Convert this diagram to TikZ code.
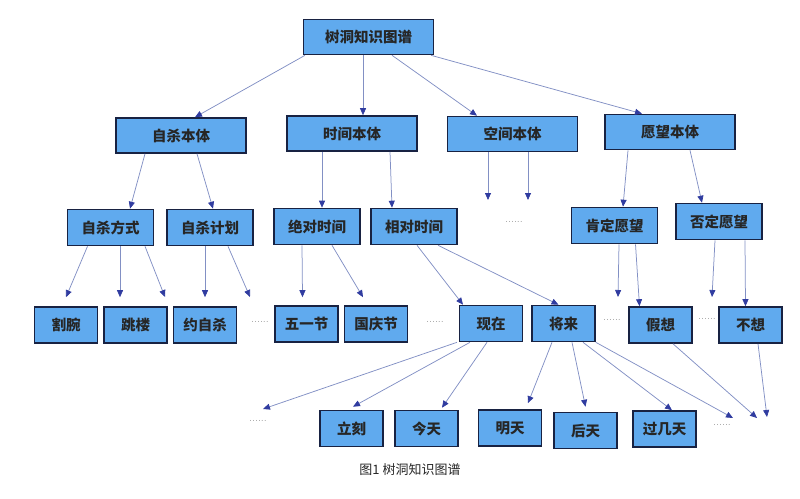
\documentclass[tikz,border=0pt]{standalone}
\usepackage{fontspec}
\newfontfamily\cjk{Noto Sans CJK SC}
\usetikzlibrary{arrows.meta}
\definecolor{fond}{RGB}{96,170,238}
\definecolor{bord}{RGB}{24,34,66}
\definecolor{trait}{RGB}{130,144,196}
\definecolor{pointe}{RGB}{48,60,160}

\begin{document}
\begin{tikzpicture}[x=1pt,y=-1pt,
    boite/.style={draw=bord,line width=1.6pt,fill=fond,inner sep=0pt,
      font=\fontsize{14.5}{16}\selectfont\cjk\bfseries,text=black!85},
    grand/.style={boite,minimum width=130pt,minimum height=35pt},
    moyen/.style={boite,minimum width=86pt,minimum height=36pt},
    petit/.style={boite,minimum width=63pt,minimum height=36pt},
    fleche/.style={draw=trait,line width=0.75pt,-{Triangle[length=7pt,width=6pt,color=pointe]}},
    etc/.style={font=\fontsize{11}{11}\selectfont,text=gray!80}]
    \useasboundingbox (0,0) rectangle (800,498);
    % racine et niveau 1
    \node[grand] (R) at (368.5,37) {树洞知识图谱};
    \node[grand] (A) at (181,135.5) {自杀本体};
    \node[grand] (B) at (352,133.5) {时间本体};
    \node[grand] (C) at (512.5,134) {空间本体};
    \node[grand] (D) at (670,132) {愿望本体};
    % niveau 2
    \node[moyen] (A1) at (110.5,227.5) {自杀方式};
    \node[moyen] (A2) at (210,227.5) {自杀计划};
    \node[moyen] (B1) at (317,226.5) {绝对时间};
    \node[moyen] (B2) at (414,226.5) {相对时间};
    \node[moyen] (D1) at (614.5,225.5) {肯定愿望};
    \node[moyen] (D2) at (719,221.5) {否定愿望};
    % niveau 3
    \node[petit] (A11) at (66,325) {割腕};
    \node[petit] (A12) at (135.5,325) {跳楼};
    \node[petit] (A21) at (205,325) {约自杀};
    \node[petit] (B11) at (306.5,324) {五一节};
    \node[petit] (B12) at (376,324) {国庆节};
    \node[petit] (B21) at (491,323.5) {现在};
    \node[petit] (B22) at (563.5,323.5) {将来};
    \node[petit] (D11) at (660.5,325) {假想};
    \node[petit] (D21) at (750.5,325) {不想};
    % niveau 4
    \node[petit] (B211) at (351.5,428.5) {立刻};
    \node[petit] (B212) at (426.5,428.5) {今天};
    \node[petit] (B221) at (510,428) {明天};
    \node[petit] (B222) at (585.5,430.5) {后天};
    \node[petit] (B223) at (664.5,429) {过几天};
    % points de suspension
    \node[etc] (p1) at (514,222) {......};
    \node[etc] (p2) at (260,322) {......};
    \node[etc] (p3) at (435,322) {......};
    \node[etc] (p4) at (612,320) {......};
    \node[etc] (p5) at (707,319) {......};
    \node[etc] (p6) at (258,421) {......};
    \node[etc] (p7) at (722,425) {......};
    % extrémités libres
    \coordinate (c1) at (488,200);
    \coordinate (c2) at (528,200);
    \coordinate (a3) at (165,297);
    \coordinate (a4) at (250,297);
    \coordinate (d1) at (618,297);
    \coordinate (d2) at (712,297);
    \coordinate (e1) at (263,409);
    \coordinate (e2) at (733,418);
    \coordinate (e3) at (757,418);
    \coordinate (e4) at (767,417);
    % flèches
    \draw[fleche] ([xshift=-63.5pt]R.south) -- ([xshift=14pt]A.north);
    \draw[fleche] ([xshift=-5.5pt]R.south) -- ([xshift=11pt]B.north);
    \draw[fleche] ([xshift=23.5pt]R.south) -- ([xshift=-35.5pt]C.north);
    \draw[fleche] ([xshift=62.5pt]R.south) -- ([xshift=-28pt]D.north);
    \draw[fleche] ([xshift=-36pt]A.south) -- ([xshift=19.5pt]A1.north);
    \draw[fleche] ([xshift=16pt]A.south) -- ([xshift=3pt]A2.north);
    \draw[fleche] ([xshift=-30pt]B.south) -- ([xshift=5pt]B1.north);
    \draw[fleche] ([xshift=38pt]B.south) -- ([xshift=-22pt]B2.north);
    \draw[fleche] ([xshift=-24.5pt]C.south) -- (c1);
    \draw[fleche] ([xshift=15.5pt]C.south) -- (c2);
    \draw[fleche] ([xshift=-42pt]D.south) -- ([xshift=8.5pt]D1.north);
    \draw[fleche] ([xshift=20pt]D.south) -- ([xshift=-17pt]D2.north);
    \draw[fleche] ([xshift=-23pt]A1.south) -- ([yshift=9pt]A11.north);
    \draw[fleche] ([xshift=9.5pt]A1.south) -- ([xshift=-15.5pt,yshift=9pt]A12.north);
    \draw[fleche] ([xshift=34.5pt]A1.south) -- (a3);
    \draw[fleche] ([xshift=-5pt]A2.south) -- ([yshift=9pt]A21.north);
    \draw[fleche] ([xshift=18pt]A2.south) -- (a4);
    \draw[fleche] ([xshift=-15pt]B1.south) -- ([xshift=-4pt,yshift=8pt]B11.north);
    \draw[fleche] ([xshift=15pt]B1.south) -- ([xshift=-13pt,yshift=8pt]B12.north);
    \draw[fleche] ([xshift=3pt]B2.south) -- ([xshift=-28pt]B21.north);
    \draw[fleche] ([xshift=24pt]B2.south) -- ([xshift=-5pt]B22.north);
    \draw[fleche] ([xshift=4.5pt]D1.south) -- (d1);
    \draw[fleche] ([xshift=21pt]D1.south) -- ([xshift=-21pt]D11.north);
    \draw[fleche] ([xshift=-4pt]D2.south) -- (d2);
    \draw[fleche] ([xshift=26pt]D2.south) -- ([xshift=-5pt]D21.north);
    \draw[fleche] ([xshift=-34pt]B21.south) -- (e1);
    \draw[fleche] ([xshift=-21pt]B21.south) -- ([xshift=1.5pt,yshift=3pt]B211.north);
    \draw[fleche] ([xshift=-4pt]B21.south) -- ([xshift=15.5pt,yshift=2pt]B212.north);
    \draw[fleche] ([xshift=-11.5pt]B22.south) -- ([xshift=18pt,yshift=6pt]B221.north);
    \draw[fleche] ([xshift=8.5pt]B22.south) -- ([yshift=5pt]B222.north);
    \draw[fleche] ([xshift=19.5pt]B22.south) -- ([xshift=7.5pt]B223.north);
    \draw[fleche] (B22.south east) -- (e2);
    \draw[fleche] ([xshift=12.5pt]D11.south) -- (e3);
    \draw[fleche] ([xshift=7.5pt]D21.south) -- (e4);
    % légende
    \node[font=\fontsize{13}{14}\selectfont\cjk,text=black!85] (L) at (410,470) {图1 树洞知识图谱};
  \end{tikzpicture}
\end{document}
